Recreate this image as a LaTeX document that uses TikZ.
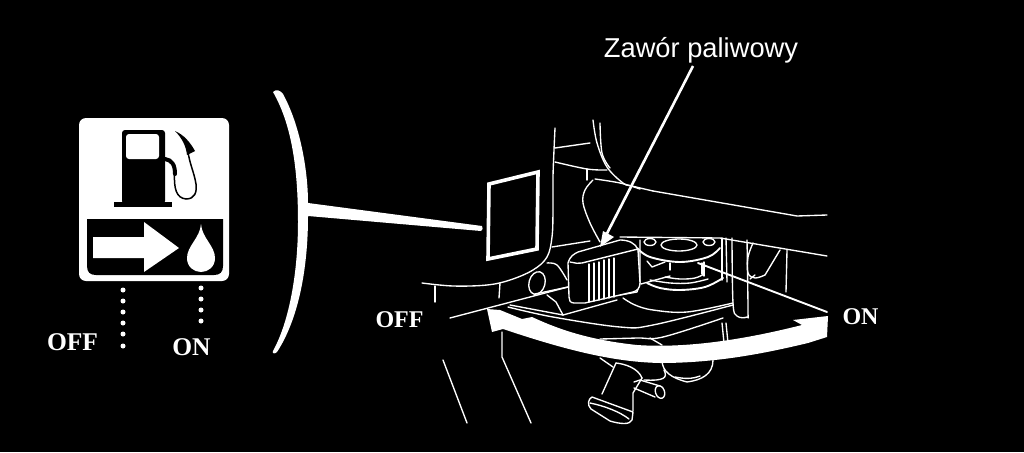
\documentclass[tikz,border=0pt]{standalone}
\usepackage{fontspec}
\setmainfont{Liberation Serif}
\newfontfamily\labelsans{Liberation Sans}
\tikzset{
  x=1pt,y=-1pt,
  ln/.style={draw=white,line width=1.35pt,line cap=round,line join=round},
  lnb/.style={draw=white,line width=1.9pt,line cap=round,line join=round},
  statea/.style={text=white,font=\bfseries\fontsize{25.5}{25.5}\selectfont,inner sep=0pt},
  stateb/.style={text=white,font=\bfseries\fontsize{24}{24}\selectfont,inner sep=0pt},
  dotmark/.style={circle,fill=white,draw=none,minimum size=5pt,inner sep=0pt},
}
\newcommand{\sm}[1]{plot[smooth,tension=0.6] coordinates {#1}}
\begin{document}
\begin{tikzpicture}
\fill[black] (0,0) rectangle (1024,452);
\useasboundingbox (0,0) rectangle (1024,452);

% ---------- sign ----------
\fill[white,rounded corners=7pt] (79,118) rectangle (229,281);
\fill[black] (87,219) -- (223,219) -- (223,266) .. controls (223,272) and (220,275) .. (214,275)
  -- (96,275) .. controls (90,275) and (87,272) .. (87,266) -- cycle;
% pump
\fill[black,rounded corners=3pt] (122,130) -- (165,130) -- (165,204) -- (122,204) -- cycle;
\fill[black] (114,202) rectangle (172,207);
\fill[white,rounded corners=3pt] (126,134) rectangle (159,159);
\draw[black,line width=4pt,line cap=round] (165,159) .. controls (172,160) and (175,165) .. (175,174);
\draw[black,line width=1.5pt] (174.5,174) .. controls (174,188) and (176,198) .. (186,199)
  .. controls (195,199) and (197,192) .. (196,184) .. controls (194,172) and (190,165) .. (188,152);
\fill[black] (175,131) .. controls (184,135) and (190,142) .. (195,151) -- (187,155)
  .. controls (186,146) and (182,138) .. (175,131) -- cycle;
% arrow and drop
\fill[white] (93,237) -- (144,237) -- (144,222) -- (179,248) -- (144,272) -- (144,258) -- (93,258) -- cycle;
\fill[white] (201,224) .. controls (202,238) and (215,246) .. (215,258)
  .. controls (215,267) and (208,272) .. (201,272)
  .. controls (194,272) and (187,267) .. (187,258)
  .. controls (187,246) and (200,238) .. (201,224) -- cycle;
% dots
\foreach \i/\yy in {1/290,2/301,3/312,4/323,5/334,6/346} \node[dotmark] (l\i) at (123,\yy) {};
\foreach \i/\yy in {1/288,2/299,3/310,4/321} \node[dotmark] (r\i) at (201,\yy) {};
\node[statea] (offa) at (72.5,342) {OFF};
\node[statea] (ona) at (191.5,347) {ON};

% ---------- bracket and callout ----------
\fill[white] (273,92) .. controls (276,89) and (280,90) .. (283,94)
  .. controls (300,125) and (308,170) .. (308,203)
  -- (482,226) .. controls (483,228) and (483,230) .. (481,231)
  -- (308,216)
  .. controls (308,270) and (298,320) .. (277,352)
  .. controls (275,354) and (272,354) .. (273,351)
  .. controls (290,320) and (298,270) .. (298,222)
  .. controls (298,170) and (292,125) .. (273,92) -- cycle;
\draw[white,line width=3.6pt,line join=miter] (489,184) -- (538,172) -- (537,249) -- (488,259) -- cycle;

% ---------- engine lines ----------
\draw[ln] \sm{(555,128)(554,150)(553,177)(553,210)(552,237)(547,257)(533,270)(510,280)(487,285)(453,286)(422,283)};
\draw[ln] (435,286) -- (435,302);
\draw[ln] (500,283) -- (499,298);
\draw[ln] (555,148) -- (590,143);
\draw[ln] \sm{(555,162)(587,169)(607,170)};
\draw[ln] \sm{(593,120)(597,143)(607,167)(623,183)(632,186)(653,191)};
\draw[ln] (653,191) -- (797,216) -- (827,215);
\draw[ln] \sm{(600,123)(602,153)(610,168)};
\draw[ln] (587,169) -- (587,180);
\draw[ln] \sm{(595,179)(620,183)(640,189)};
\draw[ln] \sm{(593,180)(585,190)(583,203)(590,223)(600,242)};
\draw[ln] (552,247) -- (590,241);
% top plate line
\draw[ln] (620,237) -- (720,238) -- (827,256);
% hub
\draw[lnb] \sm{(637,248)(650,257)(680,262)(708,257)(720,248)};
\draw[ln] (679,245) ellipse [x radius=18,y radius=6];
\draw[ln] (650,242) ellipse [x radius=6,y radius=3.5];
\draw[ln] (709,242) ellipse [x radius=6,y radius=3.5];
\draw[ln] (640,240) -- (640,283) -- (637,292) -- (620,295);
\draw[ln] (647,261) -- (652,267) -- (665,262);
\draw[ln] (670,263) -- (670,270);
\draw[ln] (702,263) -- (702,274);
\draw[ln] (704,262) -- (704,276);
\draw[lnb] \sm{(647,283)(660,288)(680,290)(705,287)(723,278)};
\draw[ln] \sm{(650,280)(670,283)(690,283)(708,279)};
\draw[ln] \sm{(665,277)(680,279)(695,278)(704,274)};
\draw[ln] (641,284) -- (670,276);
\draw[ln] \sm{(623,298)(635,305)(653,310)(687,312)(733,303)};
\draw[ln] (722,238) -- (722,280);
\draw[ln] (726,238) -- (727,282);
\draw[ln] \sm{(732,238)(733,303)(737,316)(747,317)(748,310)(747,240)};
% right parts
\draw[ln] \sm{(753,243)(748,257)(748,273)(755,278)(765,275)};
\draw[ln] (765,275) -- (780,250);
\draw[ln] (787,250) -- (786,292);
\draw[ln] (750,279) -- (755,275);
\draw[lnb] (698,263) -- (827,312);
\draw[ln] (722,323) -- (724,343);
\draw[ln] (726,323) -- (728,343);
% cylinder stub
\draw[ln,rotate around={-15:(537,283)}] (537,283) ellipse [x radius=8,y radius=11.5];
\draw[ln] \sm{(547,263)(557,265)(567,280)};
\draw[ln] (535,294) -- (568,287);
\draw[ln] (450,318) -- (568,287);
% plate under valve
\draw[ln] (547,295) -- (556,302) -- (563,315);
\draw[ln] (563,315) -- (617,300);
\draw[ln] (510,305) -- (563,315);
\draw[ln] \sm{(508,307)(553,317)(620,327)(653,325)(733,305)};
\draw[ln] \sm{(600,339)(637,338)(663,337)(723,318)};
% valve box
\draw[ln,fill=black] (568,263) .. controls (570,256) and (574,254) .. (578,252) -- (620,240)
  .. controls (628,240) and (636,243) .. (638,250) -- (640,283) .. controls (640,288) and (637,291) .. (633,292)
  -- (585,303) -- (574,303) .. controls (570,303) and (569,300) .. (569,297) -- cycle;
\draw[ln] (570,262) .. controls (576,263) and (578,264) .. (582,263) -- (638,249);
\foreach \xa/\ya/\yb in {589/264/302,594/263/301,599/262/300,604/260/299,609/259/298,614/258/297}
  \draw[ln] (\xa,\ya) -- (\xa,\yb);

% ---------- fuel cock ----------
\draw[ln] (443,360) -- (467,423);
\draw[ln] (502,332) -- (502,357) -- (531,423);
\draw[ln] (650,338) -- (662,345);
\draw[ln] (600,358) -- (613,367);
\draw[ln] (662,360) .. controls (662,372) and (672,378) .. (687,382) .. controls (702,380) and (713,374) .. (713,360);
\draw[ln] (675,377) .. controls (685,379) and (692,379) .. (700,376);
\draw[ln] (664,370) .. controls (668,378) and (664,381) .. (644,380);
\draw[ln] (616,363) .. controls (625,364) and (638,368) .. (642,378);
\draw[ln] (616,363) -- (602,394);
\draw[ln] (642,378) -- (633,393) -- (633,411);
\draw[ln] (592,397) -- (633,412) -- (632,420) .. controls (630,425) and (620,424) .. (610,421)
  -- (591,409) .. controls (587,405) and (588,399) .. (592,397) -- cycle;
\draw[ln] (590,403) .. controls (605,406) and (620,412) .. (629,419);
\draw[ln] (634,382) -- (640,380) -- (660,386);
\draw[ln] (634,388) -- (655,397);
\draw[ln,rotate around={20:(660,392)}] (660,392) ellipse [x radius=4.5,y radius=6.5];

% ---------- big double arrow ----------
\fill[white] (487,309) -- (500,310) -- (522,319) -- (532,317)
  .. controls (560,330) and (590,340) .. (637,345)
  .. controls (680,348) and (735,342) .. (802,325)
  -- (793,320) -- (828,316) -- (827,337)
  -- (808,343) .. controls (770,352) and (720,363) .. (660,363)
  .. controls (610,362) and (560,348) .. (503,329)
  -- (492,332) -- cycle;

% ---------- label and pointer ----------
\node[text=white,font=\labelsans\fontsize{27.3}{27.3}\selectfont,inner sep=0pt] (valve) at (701,50) {Zawór paliwowy};
\coordinate (valvetip) at (600,247);
\draw[white,line width=2.6pt,shorten >=12pt] (693,66) -- (valvetip);
\fill[white] (600,247) -- (603,231) -- (614,237) -- cycle;

\node[stateb] (offb) at (399.5,320) {OFF};
\node[stateb] (onb) at (860.5,317) {ON};
\end{tikzpicture}
\end{document}
